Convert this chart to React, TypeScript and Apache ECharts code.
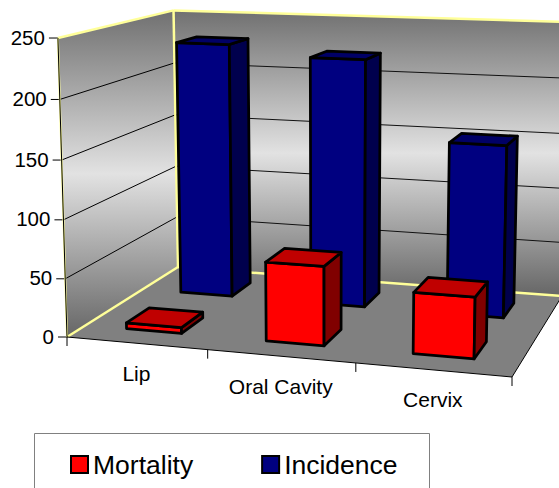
import React, { useEffect, useRef } from "react";
import * as echarts from "echarts";

const categories = ["Lip", "Oral Cavity", "Cervix"];
const mortality = [5, 67, 51];
const incidence = [230, 221, 152];
const valueTicks = [0, 50, 100, 150, 200, 250];

const W = 559;
const H = 488;
const FONT = '"Liberation Sans", Arial, sans-serif';

// Floor corners of the 3D box on screen: front-left, front-right, back-right, back-left
const Q = [
  [67, 337],
  [512, 377],
  [562, 296],
  [178, 267],
];
const VP = [330, 9000]; // vanishing point of the vertical direction
const VK = -0.03336; // perspective strength of the value direction over full scale

const dx1 = Q[1][0] - Q[2][0];
const dx2 = Q[3][0] - Q[2][0];
const sx = Q[0][0] - Q[1][0] + Q[2][0] - Q[3][0];
const dy1 = Q[1][1] - Q[2][1];
const dy2 = Q[3][1] - Q[2][1];
const sy = Q[0][1] - Q[1][1] + Q[2][1] - Q[3][1];
const den = dx1 * dy2 - dx2 * dy1;
const g = (sx * dy2 - dx2 * sy) / den;
const h = (dx1 * sy - sx * dy1) / den;
const a = Q[1][0] - Q[0][0] + g * Q[1][0];
const b = Q[3][0] - Q[0][0] + h * Q[3][0];
const d = Q[1][1] - Q[0][1] + g * Q[1][1];
const e = Q[3][1] - Q[0][1] + h * Q[3][1];

// u: 0..1 along categories, t: 0..1 along values, w: 0..1 depth
function proj(u: number, t: number, w: number): number[] {
  const k = VK * t;
  const X = a * u + b * w + Q[0][0] + k * VP[0];
  const Y = d * u + e * w + Q[0][1] + k * VP[1];
  const Z = g * u + h * w + 1 + k;
  return [X / Z, Y / Z];
}

// Hidden grid: the library's scales map data to this plain rectangle, then proj() tilts it
const GRID_W = 300;
const GRID_H = 250;
const toU = (px: number) => px / GRID_W;
const toT = (py: number) => (GRID_H - py) / GRID_H;

const BAR_HALF = 0.2; // of a category's cell
const DEPTH_HALF = 0.1; // of the whole depth

function barRender(depthCentre: number, front: string, top: string, side: string) {
  return (_params: any, api: any) => {
    const c = api.coord([api.value(0), api.value(1)]);
    const cell = api.size([1, 0])[0] / GRID_W;
    const uc = toU(c[0]);
    const t = toT(c[1]);
    const u0 = uc - cell * BAR_HALF;
    const u1 = uc + cell * BAR_HALF;
    const w0 = depthCentre - DEPTH_HALF;
    const w1 = depthCentre + DEPTH_HALF;
    const border = { stroke: "#000", lineWidth: 2.75, lineJoin: "round" };
    const face = (pts: number[][], fill: string) => ({
      type: "polygon",
      shape: { points: pts },
      style: { fill, ...border },
    });
    return {
      type: "group",
      children: [
        face([proj(u0, 0, w0), proj(u1, 0, w0), proj(u1, t, w0), proj(u0, t, w0)], front),
        face([proj(u1, 0, w0), proj(u1, 0, w1), proj(u1, t, w1), proj(u1, t, w0)], side),
        face([proj(u0, t, w0), proj(u1, t, w0), proj(u1, t, w1), proj(u0, t, w1)], top),
      ],
    };
  };
}

function frameRender(_params: any, api: any) {
  const wallFill = () =>
    new echarts.graphic.LinearGradient(0, 0, 0, 1, [
      { offset: 0, color: "#707070" },
      { offset: 0.5, color: "#e2e2e2" },
      { offset: 1, color: "#666666" },
    ]);
  const kids: any[] = [];
  const yellow = "#ffff99";
  const line = (p: number[], q: number[], stroke: string, lineWidth: number) => ({
    type: "line",
    shape: { x1: p[0], y1: p[1], x2: q[0], y2: q[1] },
    style: { stroke, lineWidth },
  });
  kids.push({
    type: "polygon",
    shape: { points: [proj(0, 0, 0), proj(0, 0, 1), proj(0, 1, 1), proj(0, 1, 0)] },
    style: { fill: wallFill() },
  });
  kids.push({
    type: "polygon",
    shape: { points: [proj(0, 0, 1), proj(1, 0, 1), proj(1, 1, 1), proj(0, 1, 1)] },
    style: { fill: wallFill() },
  });
  kids.push({
    type: "polygon",
    shape: { points: [proj(0, 0, 0), proj(1, 0, 0), proj(1, 0, 1), proj(0, 0, 1)] },
    style: { fill: "#808080" },
  });
  valueTicks.forEach((v) => {
    const t = toT(api.coord([0, v])[1]);
    if (v > 0 && v < 250) {
      kids.push(line(proj(0, t, 0), proj(0, t, 1), "#000", 1));
      kids.push(line(proj(0, t, 1), proj(1, t, 1), "#111", 1));
    }
    const p = proj(0, t, 0);
    kids.push(line([p[0] - 9, p[1]], p, "#000", 1));
    kids.push({
      type: "text",
      style: {
        text: String(v),
        x: p[0] - 13,
        y: p[1] - 1,
        align: "right",
        verticalAlign: "middle",
        font: `20.5px ${FONT}`,
        fill: "#000",
      },
    });
  });
  // Yellow wall outlines
  kids.push(line(proj(0, 0, 0), proj(0, 0, 1), yellow, 2.5));
  kids.push(line(proj(0, 0, 1), proj(1, 0, 1), yellow, 2.5));
  kids.push(line(proj(0, 0, 1), proj(0, 1, 1), yellow, 2.5));
  kids.push(line(proj(0, 1, 0), proj(0, 1, 1), yellow, 2.5));
  kids.push(line(proj(0, 1, 1), proj(1, 1, 1), yellow, 2.5));
  kids.push(line(proj(0, 0, 0), proj(0, 1, 0), yellow, 2));
  kids.push(line(proj(0, 0, 0), proj(0, 1, 0), "#000", 1));
  // Floor front and right edges
  kids.push(line(proj(0, 0, 0), proj(1, 0, 0), "#000", 1));
  kids.push(line(proj(1, 0, 0), proj(1, 0, 1), "#000", 1));
  // Category ticks and labels
  const n = categories.length;
  for (let i = 0; i <= n; i++) {
    const p = proj(i / n, 0, 0);
    kids.push(line(p, [p[0], p[1] + 9], "#000", 1));
  }
  categories.forEach((name, i) => {
    const u = toU(api.coord([i, 0])[0]);
    const p = proj(u, 0, 0);
    kids.push({
      type: "text",
      style: {
        text: name,
        x: p[0],
        y: p[1] + 30,
        align: "center",
        verticalAlign: "middle",
        font: `21px ${FONT}`,
        fill: "#000",
      },
    });
  });
  return { type: "group", children: kids };
}

export default function App() {
  const ref = useRef<HTMLDivElement>(null);
  useEffect(() => {
    const chart = echarts.init(ref.current!, null, { renderer: "svg" });
    chart.setOption({
      animation: false,
      backgroundColor: "#fff",
      grid: { left: 0, top: 0, width: GRID_W, height: GRID_H, show: false },
      xAxis: { type: "category", data: categories, show: false },
      yAxis: { type: "value", min: 0, max: 250, interval: 50, show: false },
      graphic: [
        {
          type: "rect",
          shape: { x: 34.5, y: 433.5, width: 395, height: 80 },
          style: { fill: "#fff", stroke: "#808080", lineWidth: 1 },
        },
      ],
      legend: {
        data: ["Mortality", "Incidence"],
        left: 70,
        top: 451,
        padding: 0,
        itemWidth: 17,
        itemHeight: 17,
        itemGap: 68,
        icon: "rect",
        selectedMode: false,
        itemStyle: { borderColor: "#000", borderWidth: 2 },
        textStyle: { fontFamily: FONT, fontSize: 26.5, color: "#000" },
      },
      series: [
        {
          name: "frame",
          type: "custom",
          coordinateSystem: "cartesian2d",
          clip: false,
          silent: true,
          z: 1,
          data: [[0, 0]],
          renderItem: frameRender,
        },
        {
          name: "Incidence",
          type: "custom",
          coordinateSystem: "cartesian2d",
          clip: false,
          silent: true,
          z: 2,
          itemStyle: { color: "#000080" },
          data: incidence.map((v, i) => [i, v]),
          renderItem: barRender(0.75, "#000080", "#000066", "#00004d"),
        },
        {
          name: "Mortality",
          type: "custom",
          coordinateSystem: "cartesian2d",
          clip: false,
          silent: true,
          z: 3,
          itemStyle: { color: "#ff0000" },
          data: mortality.map((v, i) => [i, v]),
          renderItem: barRender(0.25, "#ff0000", "#c00000", "#800000"),
        },
      ],
    });
    return () => chart.dispose();
  }, []);
  return (
    <div
      ref={ref}
      style={{ position: "fixed", left: 0, top: 0, width: W, height: H }}
    />
  );
}
